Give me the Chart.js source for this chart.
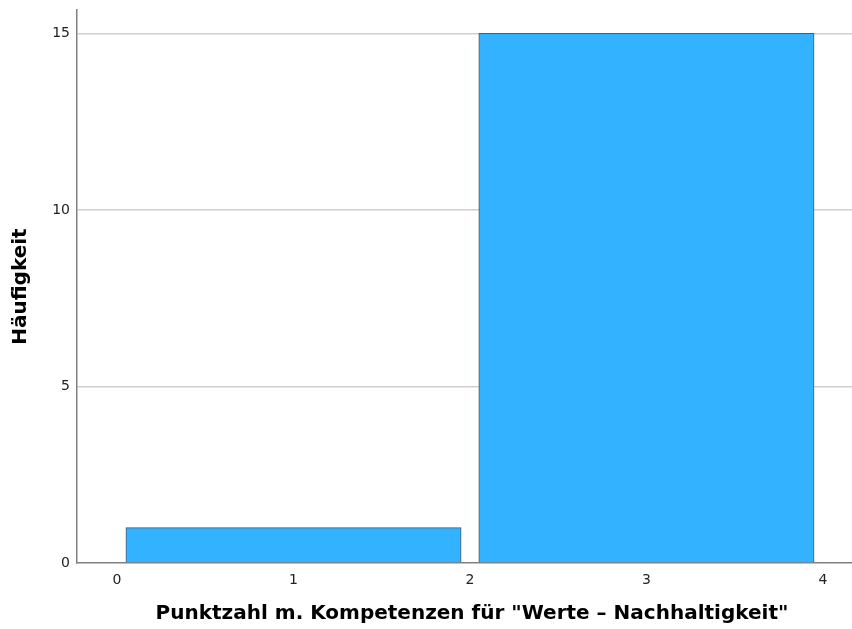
<!DOCTYPE html>
<html>
<head>
<meta charset="utf-8">
<script src="https://cdn.jsdelivr.net/npm/chart.js@4"></script>
<style>
  html, body { margin: 0; padding: 0; background: #ffffff; overflow: hidden; }
  /* the plot area runs on past the visible right edge */
  #wrap { width: 852px; height: 629px; overflow: hidden; }
</style>
</head>
<body>
<div id="wrap"><canvas id="hist" width="867" height="629"></canvas></div>
<script>
// Histogram bins: centre of each bin (bin width 2) and its frequency
const binCenters = [1, 3];
const frequencies = [1, 15];
const xTickValues = [0, 1, 2, 3, 4];
const yTickValues = [0, 5, 10, 15];

const xTitle = 'Punktzahl m. Kompetenzen für "Werte – Nachhaltigkeit"';
const yTitle = 'Häufigkeit';

const points = binCenters.map((c, i) => ({ x: c, y: frequencies[i] }));

const tickFont = { family: 'DejaVu Sans', size: 14 };
const titleFont = { family: 'DejaVu Sans', size: 20, weight: 'bold' };

new Chart(document.getElementById('hist'), {
  type: 'bar',
  data: {
    datasets: [{
      data: points,
      backgroundColor: '#33b2ff',
      borderColor: '#4a5a66',
      borderWidth: 1,
      barThickness: 'flex',
      categoryPercentage: 1,
      barPercentage: 0.95
    }]
  },
  options: {
    responsive: false,
    animation: false,
    layout: { padding: { top: 10, right: 0, left: 0, bottom: 0 } },
    plugins: { legend: { display: false }, tooltip: { enabled: false } },
    scales: {
      x: {
        type: 'linear',
        offset: false,
        min: -0.227,
        max: 4.25,
        afterBuildTicks: s => { s.ticks = xTickValues.map(v => ({ value: v })); },
        afterFit: s => { s.height = 66; s.paddingLeft = 0; s.paddingRight = 0; },
        ticks: { font: tickFont, color: '#222', padding: 9, maxRotation: 0, autoSkip: false },
        grid: { display: false, drawTicks: false },
        border: { display: true, color: '#808080', width: 1.5 },
        title: { display: true, text: xTitle, font: titleFont, color: '#000', padding: { top: 0, bottom: 3 } }
      },
      y: {
        type: 'linear',
        min: 0,
        max: 15.66,
        afterBuildTicks: s => { s.ticks = yTickValues.map(v => ({ value: v })); },
        afterFit: s => { s.width = 77; s.paddingTop = 0; s.paddingBottom = 0; },
        ticks: { font: tickFont, color: '#222', padding: 7 },
        grid: {
          drawTicks: false,
          color: ctx => (ctx.tick && ctx.tick.value === 0) ? 'rgba(0,0,0,0)' : '#cfcfcf',
          lineWidth: 1.5
        },
        border: { display: true, color: '#808080', width: 1.5 },
        title: { display: true, text: yTitle, font: titleFont, color: '#000', padding: { top: 9, bottom: 0 } }
      }
    }
  }
});
</script>
</body>
</html>
